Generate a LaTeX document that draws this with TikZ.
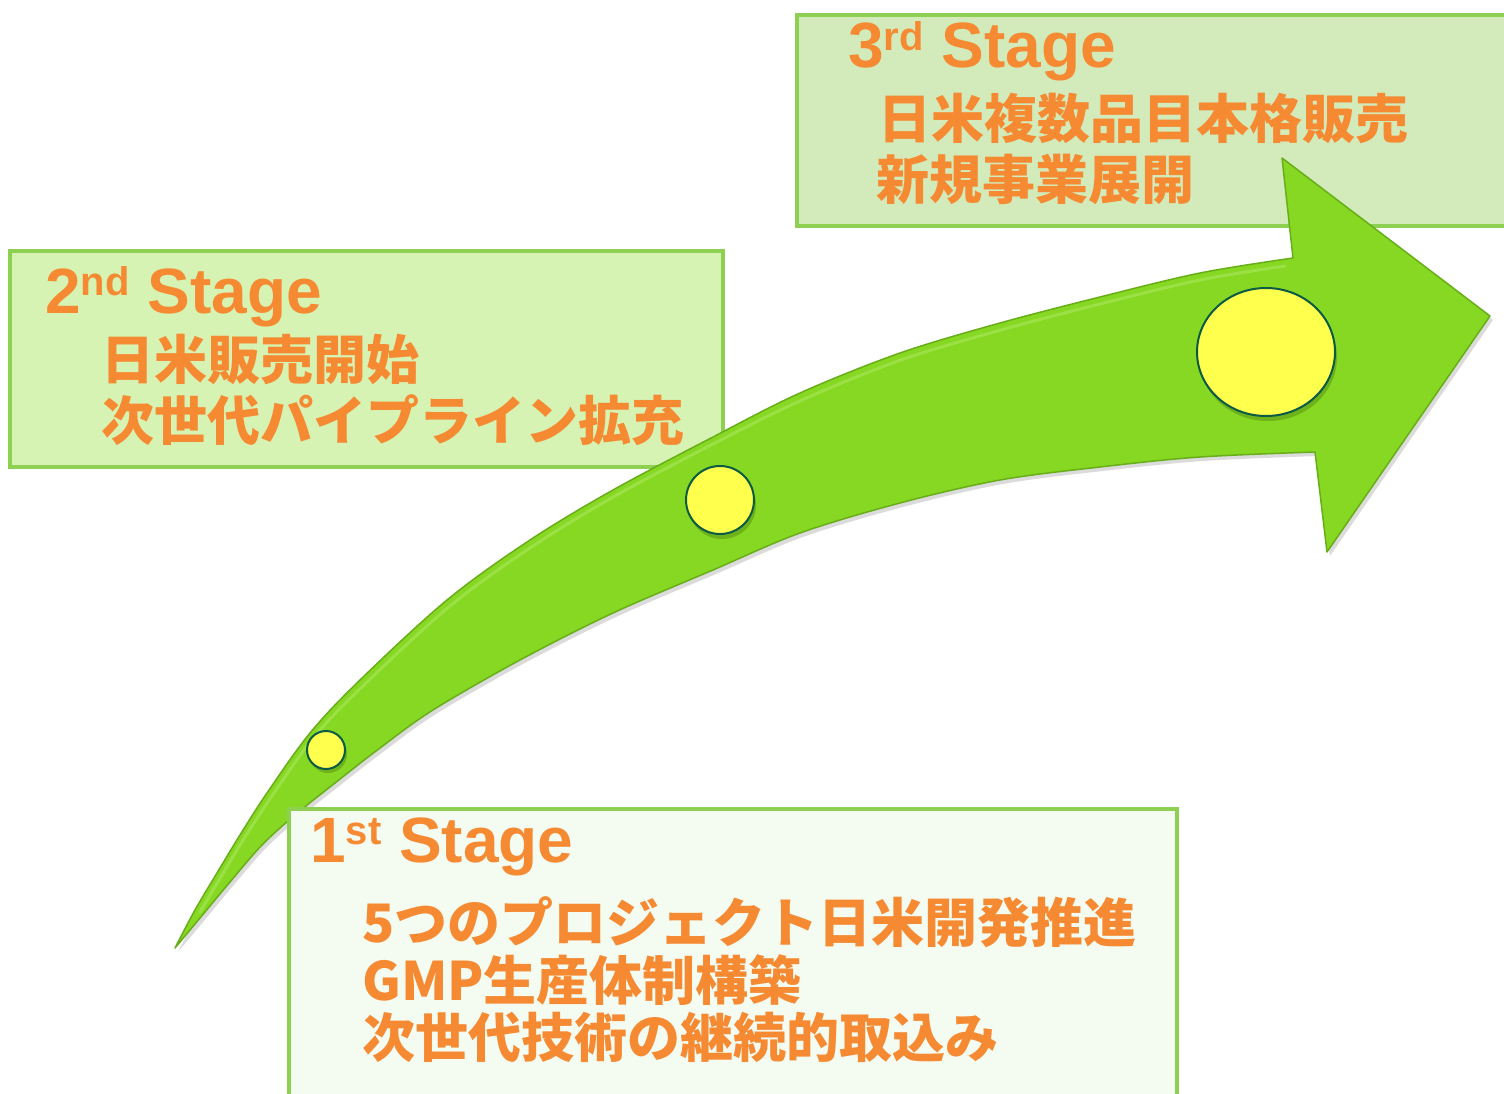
\documentclass[tikz,border=0pt]{standalone}
\usepackage{fontspec}
\setmainfont{Liberation Sans}
\newfontfamily\jpfont{Noto Sans CJK JP}
\usetikzlibrary{shapes.geometric}
\definecolor{orng}{HTML}{F68A33}
\definecolor{boxline}{HTML}{8ED052}
\definecolor{fillthree}{HTML}{D3EBBB}
\definecolor{filltwo}{HTML}{D7F3B3}
\definecolor{fillone}{HTML}{F4FBF0}
\definecolor{arrowgreen}{HTML}{86D822}
\definecolor{arrowedge}{HTML}{68AE18}
\definecolor{arrowlight}{HTML}{A4E656}
\definecolor{dotyellow}{HTML}{FFFF4D}
\definecolor{dotedge}{HTML}{0B5A45}
\newcommand\stagetitle[2]{#1\raisebox{0.27em}{\fontsize{40}{40}\selectfont #2} Stage}
\tikzset{
  stagebox/.style={draw=boxline, line width=4pt, rectangle, inner sep=0pt, anchor=north west},
  titletext/.style={anchor=base west, inner sep=0pt, text=orng, font=\fontsize{64}{64}\selectfont\bfseries},
  jptext/.style={anchor=base west, inner sep=0pt, text=orng, font=\jpfont\fontsize{53}{53}\selectfont\bfseries},
  dot/.style={circle, fill=dotyellow, draw=dotedge, line width=2pt, inner sep=0pt},
  dotshadow/.style={circle, fill=black, opacity=0.18, inner sep=0pt},
  arrowpath/.style={insert path={
    plot[smooth, tension=0.55] coordinates {(175,948) (195,910) (217,873) (240,835) (267,793) (310,733) (360,680) (447,600) (530,540) (613,490) (713,437) (800,393) (900,353) (1000,323) (1100,297) (1200,273) (1293,258)}
    -- (1282,158) -- (1490,316) -- (1327,552) -- (1315,452)
    -- plot[smooth, tension=0.55] coordinates {(1315,452) (1200,457) (1100,467) (1000,480) (900,503) (800,533) (713,570) (613,613) (520,660) (433,710) (380,748) (335,783) (295,815) (262,845) (230,882) (200,918) (175,948)} -- cycle}}
}
\begin{document}
\begin{tikzpicture}[x=1pt,y=-1pt]
\useasboundingbox (0,0) rectangle (1504,1094);
\fill[white] (0,0) rectangle (1504,1094);
% background boxes
\node[stagebox, fill=fillthree, minimum width=720pt, minimum height=211pt] (b3) at (795,13) {};
\node[stagebox, fill=filltwo, minimum width=713pt, minimum height=216pt] (b2) at (8,249) {};
% arrow shadow
\fill[black, opacity=0.14, shift={(3,4)}] [arrowpath];
% arrow
\filldraw[fill=arrowgreen, draw=arrowedge, line width=1.5pt, line join=round] [arrowpath];
% highlight along the upper edge
\draw[arrowlight, line width=3pt, opacity=0.7, line cap=round]
  plot[smooth, tension=0.55] coordinates {(200,912) (222,875) (245,837) (272,796) (314,737) (364,685) (450,606) (533,546) (615,496) (715,443) (802,400) (901,360) (1001,330) (1100,304) (1200,280) (1285,266)};
% dots
\node[dotshadow, minimum size=38pt] at (328,754) {};
\node[dot, minimum size=38pt] (d1) at (326,750) {};
\node[dotshadow, minimum size=68pt] at (722,505) {};
\node[dot, minimum size=68pt] (d2) at (720,500) {};
\node[ellipse, fill=black, opacity=0.18, inner sep=0pt, minimum width=138pt, minimum height=128pt] at (1268,357) {};
\node[ellipse, fill=dotyellow, draw=dotedge, line width=2pt, inner sep=0pt, minimum width=138pt, minimum height=128pt] (d3) at (1266,352) {};
% first box on top
\node[stagebox, fill=fillone, minimum width=888pt, minimum height=300pt] (b1) at (287,807) {};
% titles
\node[titletext] (t3) at (848,68) {\stagetitle{3}{rd}};
\node[titletext] (t2) at (45,313) {\stagetitle{2}{nd}};
\node[titletext] (t1) at (310,862) {\stagetitle{1}{st}};
% Japanese lines
\node[jptext] (l3a) at (878,139) {日米複数品目本格販売};
\node[jptext] (l3b) at (876,200) {新規事業展開};
\node[jptext] (l2a) at (101,379) {日米販売開始};
\node[jptext] (l2b) at (101,440) {次世代パイプライン拡充};
\node[jptext] (l1a) at (362,942) {5つのプロジェクト日米開発推進};
\node[jptext] (l1b) at (362,1000) {GMP生産体制構築};
\node[jptext] (l1c) at (362,1057) {次世代技術の継続的取込み};
\end{tikzpicture}
\end{document}
